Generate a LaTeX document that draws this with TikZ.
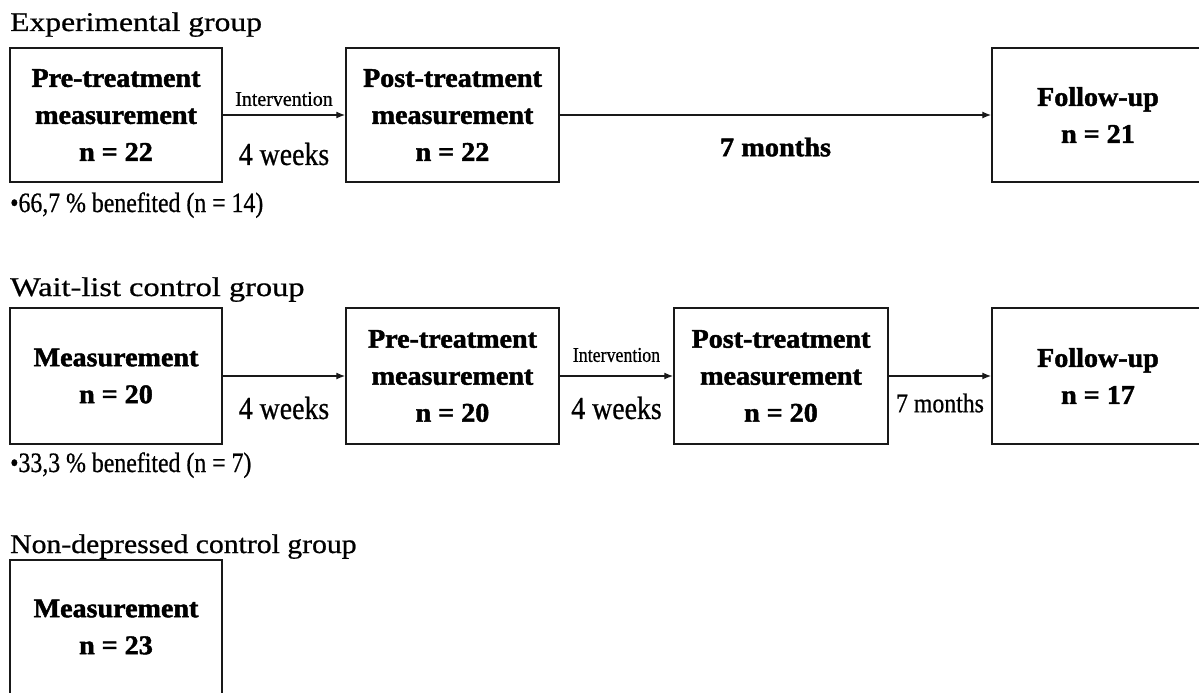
\documentclass[tikz,border=0pt]{standalone}
\usepackage{fontspec}
\setmainfont{Liberation Serif}[FakeBold=0.7]
\newfontface\heavyfont[FakeBold=1.6]{Liberation Serif Bold}
\usetikzlibrary{arrows.meta}
\newcommand\hx[2]{\scalebox{#1}[1]{#2}}
\begin{document}
\begin{tikzpicture}[x=1pt,y=-1pt,
  box/.style={draw=black!90, line width=1.5pt, minimum width=212pt, minimum height=134pt,
    inner sep=0pt, align=center, font=\fontsize{27}{37}\selectfont\heavyfont},
  flow/.style={draw=black!90, line width=1.3pt, -{Latex[length=9pt,width=7pt]}},
  grouptitle/.style={anchor=base west, inner sep=0pt, font=\fontsize{27}{30}\selectfont},
  note/.style={anchor=base west, inner sep=0pt, font=\fontsize{28}{30}\selectfont},
  lab/.style={inner sep=0pt, font=\fontsize{21}{24}\selectfont},
  wk/.style={inner sep=0pt, font=\fontsize{32}{34}\selectfont},
  mon/.style={inner sep=0pt, font=\fontsize{27}{30}\selectfont\heavyfont},
  mons/.style={inner sep=0pt, font=\fontsize{27}{30}\selectfont}
]
\useasboundingbox (0,0) rectangle (1199,693);
\clip (0,0) rectangle (1199,693);
\fill[white] (0,0) rectangle (1199,693);

% ---------- Experimental group
\node[grouptitle] (t1) at (10,31) {\hx{1.17}{Experimental group}};
\node[box] (a1) at (116,115) {\hx{1.04}{Pre-treatment}\\\hx{1.04}{measurement}\\\hx{1.04}{n = 22}};
\node[box, minimum width=213pt] (b1) at (452.5,115) {\hx{1.04}{Post-treatment}\\\hx{1.04}{measurement}\\\hx{1.04}{n = 22}};
\node[box] (c1) at (1098,115) {\hx{1.04}{Follow-up}\\\hx{1.04}{n = 21}};
\draw[flow] (a1) -- (b1)
  node[midway, yshift=16pt, lab] {\hx{0.95}{Intervention}}
  node[midway, yshift=-39pt, wk] {\hx{0.87}{4 weeks}};
\draw[flow] (b1) -- (c1)
  node[midway, yshift=-32pt, mon] {\hx{1.05}{7 months}};
\node[note] (n1) at (10,212) {\hx{0.85}{•66,7 \% benefited (n = 14)}};

% ---------- Wait-list control group
\node[grouptitle] (t2) at (10,296) {\hx{1.2}{Wait-list control group}};
\node[box, minimum height=136pt] (d2) at (116,376) {\hx{1.04}{Measurement}\\\hx{1.04}{n = 20}};
\node[box, minimum height=136pt, minimum width=213pt] (e2) at (452.5,376) {\hx{1.04}{Pre-treatment}\\\hx{1.04}{measurement}\\\hx{1.04}{n = 20}};
\node[box, minimum height=136pt, minimum width=214pt] (f2) at (781,376) {\hx{1.04}{Post-treatment}\\\hx{1.04}{measurement}\\\hx{1.04}{n = 20}};
\node[box, minimum height=136pt] (g2) at (1098,376) {\hx{1.04}{Follow-up}\\\hx{1.04}{n = 17}};
\draw[flow] (d2) -- (e2)
  node[midway, yshift=-32pt, wk] {\hx{0.87}{4 weeks}};
\draw[flow] (e2) -- (f2)
  node[midway, yshift=21pt, lab] {\hx{0.85}{Intervention}}
  node[midway, yshift=-32pt, wk] {\hx{0.87}{4 weeks}};
\draw[flow] (f2) -- (g2)
  node[midway, yshift=-27pt, mons] {\hx{0.88}{7 months}};
\node[note] (n2) at (10,472) {\hx{0.85}{•33,3 \% benefited (n = 7)}};

% ---------- Non-depressed control group
\node[grouptitle] (t3) at (10,553) {\hx{1.1}{Non-depressed control group}};
\node[box] (h3) at (116,627) {\hx{1.04}{Measurement}\\\hx{1.04}{n = 23}};
\end{tikzpicture}
\end{document}
